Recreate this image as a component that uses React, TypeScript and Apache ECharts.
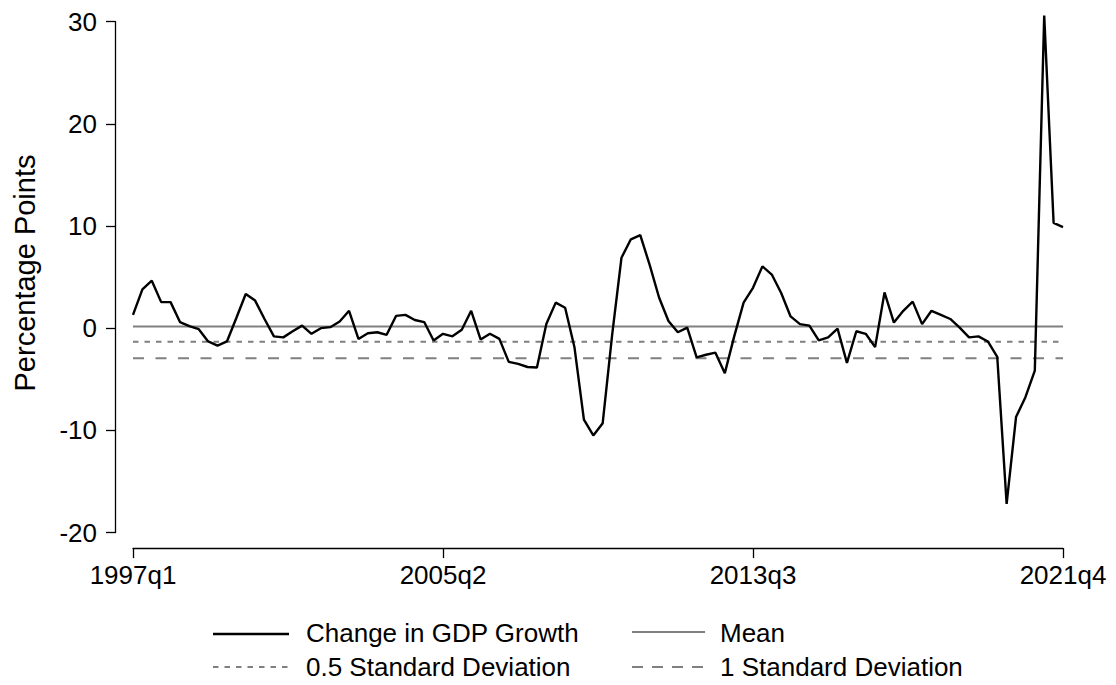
import React, { useEffect, useRef } from "react";
import * as echarts from "echarts";

// Quarters 1997q1 .. 2021q4
const START_YEAR = 1997;
const N_QUARTERS = 100;
const quarters: string[] = [];
for (let i = 0; i < N_QUARTERS; i++) {
  quarters.push(`${START_YEAR + Math.floor(i / 4)}q${(i % 4) + 1}`);
}

// Change in GDP growth (percentage points)
const gdpChange: number[] = [
  1.3, 3.8, 4.65, 2.55, 2.55, 0.6, 0.2, -0.1, -1.3, -1.7,
  -1.3, 1.0, 3.35, 2.7, 0.9, -0.8, -0.9, -0.3, 0.25, -0.55,
  0.0, 0.1, 0.65, 1.7, -1.05, -0.5, -0.4, -0.65, 1.2, 1.3,
  0.8, 0.6, -1.2, -0.55, -0.8, -0.15, 1.7, -1.1, -0.55, -1.05,
  -3.3, -3.5, -3.8, -3.85, 0.4, 2.5, 2.0, -1.9, -8.95, -10.5,
  -9.3, -0.7, 6.9, 8.7, 9.1, 6.2, 3.0, 0.7, -0.4, 0.05,
  -2.85, -2.6, -2.4, -4.4, -0.8, 2.5, 3.95, 6.05, 5.25, 3.45,
  1.15, 0.4, 0.25, -1.2, -0.9, -0.05, -3.4, -0.3, -0.55, -1.85,
  3.5, 0.55, 1.7, 2.6, 0.4, 1.7, 1.3, 0.9, 0.05, -0.9,
  -0.8, -1.3, -2.8, -17.2, -8.7, -6.75, -4.15, 30.6, 10.3, 9.9,
];

const MEAN = 0.17;
const HALF_SD = -1.33;
const ONE_SD = -2.94;

const yTicks = [-20, -10, 0, 10, 20, 30];
const xLabelStep = 33;

const FONT = "'Liberation Sans', Arial, Helvetica, sans-serif";
const GRAY = "#808080";

export default function App() {
  const ref = useRef<HTMLDivElement>(null);

  useEffect(() => {
    if (!ref.current) return;
    const chart = echarts.init(ref.current, undefined, { renderer: "svg" });

    const legendRows = [
      { y: 634, ty: 633, x1: 213, x2: 289, tx: 306, text: "Change in GDP Growth", color: "#000", width: 2.4, dash: undefined as any },
      { y: 632, ty: 633, x1: 632, x2: 705, tx: 720, text: "Mean", color: GRAY, width: 2, dash: undefined as any },
      { y: 667, ty: 667, x1: 213, x2: 289, tx: 306, text: "0.5 Standard Deviation", color: GRAY, width: 2, dash: [5.5, 6] },
      { y: 667, ty: 667, x1: 632, x2: 705, tx: 720, text: "1 Standard Deviation", color: GRAY, width: 2, dash: [11, 9] },
    ];

    const graphic: any[] = [
      {
        type: "text",
        x: 25,
        y: 273,
        rotation: Math.PI / 2,
        style: {
          text: "Percentage Points",
          fontSize: 29,
          fontFamily: FONT,
          fill: "#000",
          align: "center",
          verticalAlign: "middle",
        },
      },
    ];
    legendRows.forEach((r) => {
      graphic.push({
        type: "line",
        shape: { x1: r.x1, y1: r.y, x2: r.x2, y2: r.y },
        style: { stroke: r.color, lineWidth: r.width, lineDash: r.dash },
      });
      graphic.push({
        type: "text",
        x: r.tx,
        y: r.ty,
        style: {
          text: r.text,
          fontSize: 26,
          fontFamily: FONT,
          fill: "#000",
          align: "left",
          verticalAlign: "middle",
        },
      });
    });

    const constLine = (v: number) => quarters.map(() => v);

    chart.setOption({
      animation: false,
      backgroundColor: "#fff",
      textStyle: { fontFamily: FONT },
      grid: { left: 133, right: 53, top: 21.7, bottom: 152.5, containLabel: false },
      xAxis: {
        type: "category",
        data: quarters,
        boundaryGap: false,
        offset: 15.6,
        axisLine: { show: true, onZero: false, lineStyle: { color: "#000", width: 1.3 } },
        axisTick: {
          show: true,
          length: 10,
          interval: (i: number) => i % xLabelStep === 0,
          lineStyle: { color: "#000", width: 1.3 },
        },
        axisLabel: {
          interval: (i: number) => i % xLabelStep === 0,
          fontSize: 26,
          fontFamily: FONT,
          color: "#000",
          margin: 14,
          showMinLabel: true,
          showMaxLabel: true,
        },
        splitLine: { show: false },
      },
      yAxis: {
        type: "value",
        min: yTicks[0],
        max: yTicks[yTicks.length - 1],
        interval: 10,
        offset: 17.5,
        axisLine: { show: true, onZero: false, lineStyle: { color: "#000", width: 1.3 } },
        axisTick: { show: true, length: 9.5, lineStyle: { color: "#000", width: 1.3 } },
        axisLabel: {
          fontSize: 26,
          fontFamily: FONT,
          color: "#000",
          margin: 18.5,
        },
        splitLine: { show: false },
      },
      series: [
        {
          name: "Mean",
          type: "line",
          data: constLine(MEAN),
          symbol: "none",
          silent: true,
          lineStyle: { color: GRAY, width: 2 },
          z: 1,
        },
        {
          name: "0.5 Standard Deviation",
          type: "line",
          data: constLine(HALF_SD),
          symbol: "none",
          silent: true,
          lineStyle: { color: GRAY, width: 2, type: [5.5, 6] },
          z: 1,
        },
        {
          name: "1 Standard Deviation",
          type: "line",
          data: constLine(ONE_SD),
          symbol: "none",
          silent: true,
          lineStyle: { color: GRAY, width: 2, type: [11, 11.5] },
          z: 1,
        },
        {
          name: "Change in GDP Growth",
          type: "line",
          data: gdpChange,
          symbol: "none",
          clip: false,
          lineStyle: { color: "#000", width: 2.4 },
          z: 2,
        },
      ],
      graphic,
    });

    return () => chart.dispose();
  }, []);

  return (
    <div
      ref={ref}
      style={{ position: "fixed", left: 0, top: 0, width: 1116, height: 685, background: "#fff" }}
    />
  );
}
